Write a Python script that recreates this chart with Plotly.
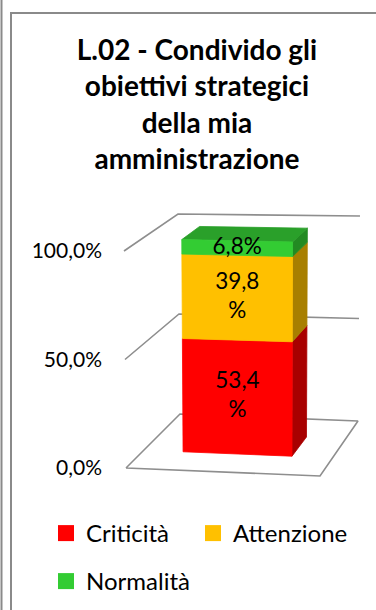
import plotly.graph_objects as go

# ---------------- data ----------------
title_lines = ["L.02 - Condivido gli", "obiettivi strategici", "della mia", "amministrazione"]
series = ["Criticità", "Attenzione", "Normalità"]
values = [53.4, 39.8, 6.8]          # percentages, stacked bottom to top
tick_vals = [0, 50, 100]
tick_text = ["0,0%", "50,0%", "100,0%"]

# ---------------- style ----------------
FRONT = ["#FF0000", "#FFC000", "#33CC33"]
SIDE = ["#A80000", "#A87F00", "#228A22"]
TOP = ["#C00000", "#C89600", "#2AA02A"]
GRID = "#8E8E8E"
FRAME = "#8A8A8A"
FONT = "Lato"
W, H = 376, 610

# Pseudo-3D plot cube: screen position (px) of its 8 corners,
# keyed by (u, t, z): u across the floor, t = value/100, z = depth.
CUBE = {
    (0, 0, 0): (126, 468), (1, 0, 0): (320, 476),
    (0, 0, 1): (180, 414), (1, 0, 1): (358, 421),
    (0, 1, 0): (124, 251), (1, 1, 0): (321, 256),
    (0, 1, 1): (178, 214), (1, 1, 1): (360, 216),
}
BASE_PX, TOP_PX = 468, 251                  # front-left edge at 0 % / 100 %
PX_PER_UNIT = (BASE_PX - TOP_PX) / 100.0
BAR_U = (0.208, 0.785)                      # column extent across the floor
BAR_Z = (0.33, 0.68)                        # column extent in depth


def project(u, v, z):
    """Map a point of the cube (u, value %, depth) onto the 2D axes."""
    t = v / 100.0
    px = py = 0.0
    for (cu, ct, cz), (cx, cy) in CUBE.items():
        w = (u if cu else 1 - u) * (t if ct else 1 - t) * (z if cz else 1 - z)
        px += w * cx
        py += w * cy
    return px, (BASE_PX - py) / PX_PER_UNIT


def polygon(points, close=True):
    xs, ys = zip(*[project(*p) for p in points])
    xs, ys = list(xs), list(ys)
    if close:
        xs.append(xs[0])
        ys.append(ys[0])
    return xs, ys


def fmt(v):
    num = f"{v:.1f}".replace(".", ",")
    # long labels wrap the percent sign onto a second line
    return num + ("<br>%" if len(num) > 3 else "%")


fig = go.Figure()

# walls: gridlines run along the left wall and the back wall
for v in tick_vals[1:]:
    xs, ys = polygon([(0, v, 0), (0, v, 1), (1, v, 1)], close=False)
    fig.add_trace(go.Scatter(x=xs, y=ys, mode="lines", line=dict(color=GRID, width=1.6),
                             hoverinfo="skip", showlegend=False))
# floor
xs, ys = polygon([(0, 0, 0), (1, 0, 0), (1, 0, 1), (0, 0, 1)])
fig.add_trace(go.Scatter(x=xs, y=ys, mode="lines", line=dict(color=GRID, width=1.6),
                         hoverinfo="skip", showlegend=False))

# stacked column
u0, u1 = BAR_U
zf, zb = BAR_Z
bottom = 0.0
for i, (name, val) in enumerate(zip(series, values)):
    top = bottom + val
    # right side face
    xs, ys = polygon([(u1, bottom, zf), (u1, bottom, zb), (u1, top, zb), (u1, top, zf)])
    fig.add_trace(go.Scatter(x=xs, y=ys, fill="toself", fillcolor=SIDE[i], mode="lines",
                             line=dict(color=SIDE[i], width=0.8), hoverinfo="skip",
                             showlegend=False, legendgroup=name))
    # top face of the last segment
    if i == len(values) - 1:
        xs, ys = polygon([(u0, top, zf), (u1, top, zf), (u1, top, zb), (u0, top, zb)])
        fig.add_trace(go.Scatter(x=xs, y=ys, fill="toself", fillcolor=TOP[i], mode="lines",
                                 line=dict(color=TOP[i], width=0.8), hoverinfo="skip",
                                 showlegend=False, legendgroup=name))
    # front face
    xs, ys = polygon([(u0, bottom, zf), (u1, bottom, zf), (u1, top, zf), (u0, top, zf)])
    fig.add_trace(go.Scatter(x=xs, y=ys, fill="toself", fillcolor=FRONT[i], mode="lines",
                             line=dict(color=FRONT[i], width=0.8), name=name,
                             hovertemplate=f"{name}: {val:.1f}%<extra></extra>",
                             showlegend=False, legendgroup=name))
    # value label at the centre of the front face
    lx, ly = project((u0 + u1) / 2, bottom + val / 2, zf)
    fig.add_trace(go.Scatter(x=[lx], y=[ly], mode="text", text=[fmt(val)],
                             textfont=dict(family=FONT, size=22.5, color="#000000"),
                             hoverinfo="skip", showlegend=False))
    bottom = top

# legend entries (one legend per entry so each sits at its own spot)
legend_pos = [(46, 533.5), (193, 533.5), (46, 581.5)]
legend_keys = ["legend", "legend2", "legend3"]
for i, name in enumerate(series):
    fig.add_trace(go.Scatter(x=[None], y=[None], mode="markers", name=name,
                             marker=dict(symbol="square", size=16, color=FRONT[i]),
                             legend=legend_keys[i], legendgroup=name))

lo_y = (BASE_PX - H) / PX_PER_UNIT
hi_y = BASE_PX / PX_PER_UNIT

legend_common = dict(bgcolor="rgba(0,0,0,0)", borderwidth=0, orientation="h",
                     xanchor="left", yanchor="middle", itemsizing="trace",
                     font=dict(family=FONT, size=24, color="#000000"))
layout_legends = {}
for key, (lx, ly) in zip(legend_keys, legend_pos):
    layout_legends[key] = dict(x=lx / W, y=1 - ly / H, **legend_common)

frame_shapes = [
    dict(type="line", xref="paper", yref="paper", x0=1.5 / W, x1=1.5 / W, y0=0, y1=1,
         line=dict(color=FRAME, width=2)),
    dict(type="line", xref="paper", yref="paper", x0=11 / W, x1=11 / W, y0=0, y1=1 - 12 / H,
         line=dict(color=FRAME, width=2)),
    dict(type="line", xref="paper", yref="paper", x0=10 / W, x1=1, y0=1 - 13 / H, y1=1 - 13 / H,
         line=dict(color=FRAME, width=2)),
]

fig.update_layout(
    width=W, height=H,
    margin=dict(l=0, r=0, t=0, b=0),
    paper_bgcolor="white", plot_bgcolor="white",
    font=dict(family=FONT, color="#000000"),
    title=dict(text="<br>".join(title_lines), x=197 / W, xanchor="center",
               xref="container", yref="container", y=1 - 60 / H, yanchor="top",
               font=dict(family=FONT, size=28, color="#000000", weight="bold")),
    xaxis=dict(range=[0, W], visible=False, fixedrange=True),
    yaxis=dict(range=[lo_y, hi_y], anchor="free", position=124 / W, side="left",
               tickvals=tick_vals, ticktext=tick_text, showgrid=False, zeroline=False,
               showline=False, ticks="", ticklabelstandoff=22,
               tickfont=dict(family=FONT, size=21, color="#000000"), fixedrange=True),
    shapes=frame_shapes,
    hovermode="closest",
    **layout_legends,
)

fig.write_html("out.html")
